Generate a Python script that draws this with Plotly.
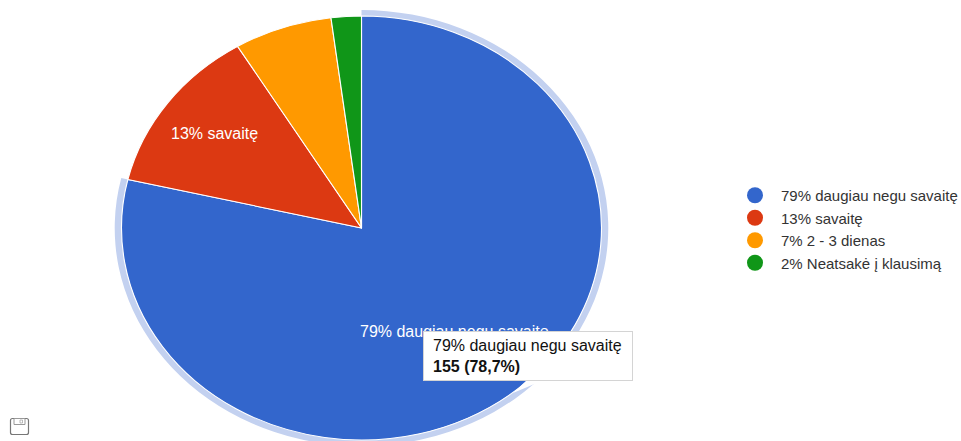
import plotly.graph_objects as go

W, H = 961, 441

labels = ["79% daugiau negu savaitę", "13% savaitę", "7% 2 - 3 dienas", "2% Neatsakė į klausimą"]
values = [155, 25, 13, 4]
colors = ["#3366cc", "#dc3912", "#ff9900", "#109618"]
ring_colors = ["#c3d1f0", "rgba(0,0,0,0)", "rgba(0,0,0,0)", "rgba(0,0,0,0)"]
tooltip_title = "79% daugiau negu savaitę"
tooltip_value = "155 (78,7%)"


def px(x):
    return x / W


def py(y):
    return 1 - y / H


CX, CY = 361.5, 228
R_IN_Y, R_IN_X = 212, 240
R_OUT_Y = 218
R0 = H / 2
k = R_IN_Y / R_OUT_Y

fig = go.Figure()
# highlight ring around the first slice
fig.add_trace(go.Pie(
    labels=labels, values=values, sort=False, direction="clockwise", rotation=0,
    hole=k, marker=dict(colors=ring_colors, line=dict(width=0)),
    textinfo="none", hoverinfo="skip", showlegend=False,
    domain=dict(x=[px(CX - R0), px(CX + R0)], y=[0, 1]),
))
fig.add_trace(go.Pie(
    labels=labels, values=values, sort=False, direction="clockwise", rotation=0,
    marker=dict(colors=colors, line=dict(color="#ffffff", width=1)),
    textinfo="none", hoverinfo="skip", showlegend=False,
    domain=dict(x=[px(CX - R0 * k), px(CX + R0 * k)], y=[0.5 - 0.5 * k, 0.5 + 0.5 * k]),
))
# legend entries with round swatches
for name, color in zip(labels, colors):
    fig.add_trace(go.Scatter(
        x=[None], y=[None], mode="markers", name=name, legendgroup=name,
        marker=dict(color=color, size=16, symbol="circle"), hoverinfo="skip",
    ))


def icon_path():
    l, r, t, b, c = 10.5, 28.5, 418.5, 434.5, 2
    return (f"M {px(l + c)} {py(t)} L {px(r - c)} {py(t)} Q {px(r)} {py(t)} {px(r)} {py(t + c)} "
            f"L {px(r)} {py(b - c)} Q {px(r)} {py(b)} {px(r - c)} {py(b)} "
            f"L {px(l + c)} {py(b)} Q {px(l)} {py(b)} {px(l)} {py(b - c)} "
            f"L {px(l)} {py(t + c)} Q {px(l)} {py(t)} {px(l + c)} {py(t)} Z")


shapes = [
    # tooltip pointer
    dict(type="path", xref="paper", yref="paper", layer="above",
         path=f"M {px(527)} {py(380)} L {px(544)} {py(380)} L {px(513)} {py(393)} Z",
         fillcolor="#ffffff", line=dict(width=0)),
    # save icon
    dict(type="path", xref="paper", yref="paper", layer="above", path=icon_path(),
         line=dict(color="#777777", width=1.2), fillcolor="#ffffff"),
    dict(type="rect", xref="paper", yref="paper", layer="above",
         x0=px(14), x1=px(25), y0=py(418.5), y1=py(424.5),
         line=dict(color="#999999", width=1), fillcolor="#ffffff"),
    dict(type="rect", xref="paper", yref="paper", layer="above",
         x0=px(20), x1=px(22.5), y0=py(420), y1=py(423),
         line=dict(color="#aaaaaa", width=0.8), fillcolor="#ffffff"),
]

annotations = [
    dict(text=labels[0], x=px(454), y=py(331), xref="paper", yref="paper", showarrow=False,
         xanchor="center", yanchor="middle",
         font=dict(color="#ffffff", size=16, family="Liberation Sans")),
    dict(text=labels[1], x=px(214.5), y=py(133), xref="paper", yref="paper", showarrow=False,
         xanchor="center", yanchor="middle",
         font=dict(color="#ffffff", size=16, family="Liberation Sans")),
    # tooltip box
    dict(text=" ", x=px(423), y=py(331), xref="paper", yref="paper", xanchor="left", yanchor="top",
         showarrow=False, width=208, height=48, borderpad=0,
         bgcolor="#ffffff", bordercolor="#d4d4d4", borderwidth=1),
    # tooltip text
    dict(text=f"{tooltip_title}<br><b>{tooltip_value}</b>",
         x=px(432), y=py(355.5), xref="paper", yref="paper", xanchor="left", yanchor="middle",
         showarrow=False, align="left", borderpad=0,
         font=dict(color="#111111", size=16, family="Liberation Sans")),
]

fig.update_layout(
    width=W, height=H, margin=dict(l=0, r=0, t=0, b=0, autoexpand=False),
    paper_bgcolor="#ffffff", plot_bgcolor="#ffffff",
    font=dict(family="Liberation Sans", size=15, color="#333333"),
    xaxis=dict(visible=False), yaxis=dict(visible=False),
    legend=dict(x=px(729), xanchor="left", y=py(179), yanchor="top",
                tracegroupgap=0, itemsizing="trace", itemwidth=42, bgcolor="rgba(0,0,0,0)",
                font=dict(size=15, color="#333333"), itemclick=False, itemdoubleclick=False),
    shapes=shapes, annotations=annotations,
)

sx = (R_OUT_Y * R_IN_X / R_IN_Y) / R0
sy = R_OUT_Y / R0
post = (
    "document.body.style.margin='0';document.body.style.overflow='hidden';"
    "var g=document.querySelector('.pielayer');"
    f"if(g)g.setAttribute('transform','translate({CX},{CY}) scale({sx:.5f},{sy:.5f}) translate({-CX},{-R0})');"
)
fig.write_html("out.html", post_script=post, config=dict(displayModeBar=False, staticPlot=True))
